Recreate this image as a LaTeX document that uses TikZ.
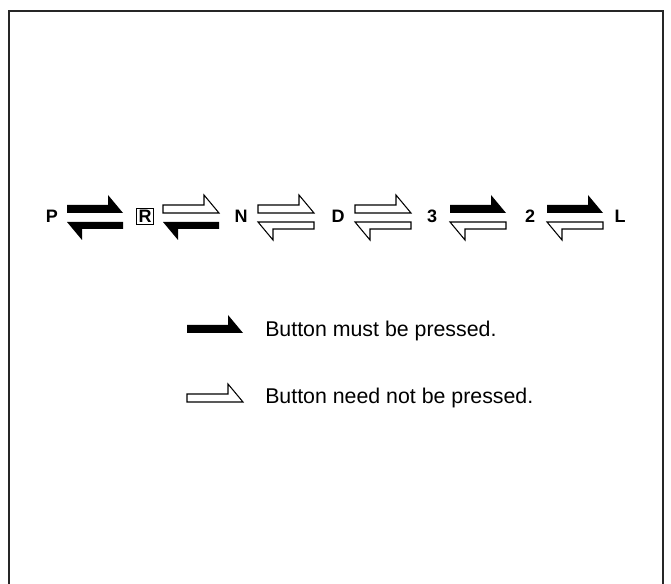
\documentclass[tikz,border=0pt]{standalone}
\usepackage{fontspec}
\setmainfont{Liberation Sans}
\usetikzlibrary{calc}

\begin{document}
\begin{tikzpicture}[x=0.75pt, y=-0.75pt,
		gear/.style={font=\fontsize{13.5}{13.5}\selectfont\bfseries, inner sep=0pt, anchor=base},
		pressed/.style={fill=black},
		free/.style={draw=black, fill=white, line width=0.8pt, line join=miter},
		legend/.style={font=\fontsize{16}{16}\selectfont, inner sep=0pt, anchor=base west}]
	
	% ------------------------------------------------------------
	% Frame
	% ------------------------------------------------------------
	
	\useasboundingbox (0,0) rectangle (671,584);
	\clip (0,0) rectangle (671,584);
	\draw[line width=1.5pt, gray!30!black]
	(9,590) -- (9,11.5) -- (663,11.5) -- (663,590);
	
	% ------------------------------------------------------------
	% Arrow shapes (#1 style, #2 left end)
	% ------------------------------------------------------------
	
	\def\rarrow#1#2{\path[#1] (#2,205) -- (#2+41,205) -- (#2+41,195)
		-- (#2+56,213) -- (#2,213) -- cycle;}
	\def\larrow#1#2{\path[#1] (#2,222) -- (#2+56,222) -- (#2+56,229)
		-- (#2+15,229) -- (#2+15,240) -- cycle;}
	
	% ------------------------------------------------------------
	% Positionen
	% ------------------------------------------------------------
	
	\def\xa{67}
	\def\xb{163}
	\def\xc{258}
	\def\xd{355}
	\def\xe{450}
	\def\xf{547}
	
	% ------------------------------------------------------------
	% Gear positions
	% ------------------------------------------------------------
	
	\node[gear] (P) at (52,223) {P};
	\node[gear, draw, line width=0.8pt, inner xsep=1.6pt, inner ysep=1.4pt,
	anchor=center] (R) at (145,216.5) {R};
	\node[gear] (N) at (241,223) {N};
	\node[gear] (D) at (338,223) {D};
	\node[gear] (G3) at (432,223) {3};
	\node[gear] (G2) at (530,223) {2};
	\node[gear] (L) at (620,223) {L};
	
	% ------------------------------------------------------------
	% Arrows between the positions
	% ------------------------------------------------------------
	
	\rarrow{pressed}{\xa}
	\larrow{pressed}{\xa}
	
	\rarrow{free}{\xb}
	\larrow{pressed}{\xb}
	
	\rarrow{free}{\xc}
	\larrow{free}{\xc}
	
	\rarrow{free}{\xd}
	\larrow{free}{\xd}
	
	\rarrow{pressed}{\xe}
	\larrow{free}{\xe}
	
	\rarrow{pressed}{\xf}
	\larrow{free}{\xf}
	
	% ------------------------------------------------------------
	% Legend
	% ------------------------------------------------------------
	
	\begin{scope}[shift={(0,120)}]
		\rarrow{pressed}{187}
	\end{scope}
	\node[legend] (must) at (265,337) {Button must be pressed.};
	
	\begin{scope}[shift={(0,189)}]
		\rarrow{free}{187}
	\end{scope}
	\node[legend] (neednot) at (265,404) {Button need not be pressed.};
\end{tikzpicture}
\end{document}
